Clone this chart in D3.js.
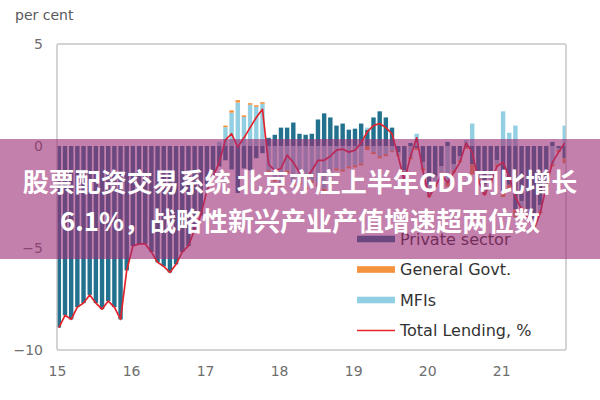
<!DOCTYPE html>
<html lang="en">
<head>
<meta charset="utf-8">
<title>Lending by sector</title>
<script src="https://d3js.org/d3.v7.min.js"></script>
<style>
  body { margin: 0; background: #fff; }
  svg text { font-family: "DejaVu Sans", sans-serif; }
</style>
</head>
<body>
<svg id="chart" width="600" height="400"></svg>
<script>
// monthly values, Jan 2015 .. Nov 2021
var yearLabels = ["15", "16", "17", "18", "19", "20", "21"];
var yTicks = [5, 0, -5, -10];

var privateSector = [
  -8.9, -8.3, -8.5, -7.9, -7.7, -7.3, -7.7, -8.0, -7.6, -7.9, -8.5, -6.1,
  -4.9, -4.8, -4.8, -5.2, -5.7, -5.9, -6.2, -5.8, -5.2, -4.9, -4.1, -3.4,
  -1.9, -1.3, -1.0, -0.7, -1.15, -2.3, -1.1, -1.2, -0.6, -0.35, 0.4, 0.55,
  0.9, 0.9, 1.15, 0.6, 0.55, 0.6, 1.3, 1.6, 1.4, 1.0, 1.1, 0.8,
  0.85, 1.1, 0.8, 1.4, 1.7, 1.4, 0.9, -0.3, -1.2, 0.15, -0.1, -0.8,
  -1.9, -1.5, -1.0, 0.2, -0.9, -0.5, -0.05, -0.9, -1.3, -1.9, -1.4, -0.7,
  -2.2, -1.9, -3.1, -2.7, -3.1, -3.6, -2.9, -1.7, 0.2, -0.1, -0.6
];
var generalGovt = [
  0, 0, 0, 0, 0, 0, 0, 0, 0, 0, 0, 0,
  0, 0, 0, 0, 0, 0, 0, 0, 0, 0, 0, 0,
  0, 0, 0, 0.08, 0.12, 0.12, 0.08, 0.08, 0.08, 0.08, -0.1, -0.15,
  -0.2, -0.15, -0.15, -0.1, -0.15, -0.1, -0.2, -0.2, -0.2, -0.1, -0.1, -0.1,
  -0.1, -0.1, -0.2, -0.1, -0.1, -0.1, -0.05, -0.05, -0.1, -0.1, -0.1, -0.1,
  -0.1, -0.1, -0.1, -0.2, -0.1, -0.1, -0.1, -0.5, -0.1, -0.1, -0.1, -0.1,
  -0.3, -0.25, -0.4, -0.1, -0.1, -0.1, -0.1, -0.1, -0.1, -0.1, -0.25
];
var mfis = [
  0, 0, 0, 0, 0, 0, 0, 0, 0, 0, 0, 0,
  0, 0, 0, 0, 0, 0, 0, 0, 0, 0, 0, 0,
  -0.3, -0.2, 0.2, 0.92, 1.63, 2.13, 1.42, 2.02, 1.92, 2.07, -1.2, -1.6,
  -1.8, -1.2, -1.8, -1.8, -2.0, -1.7, -1.8, -2.1, -1.7, -1.1, -1.15, -1.0,
  -0.95, -0.85, 0.1, -0.3, -0.5, -0.4, -0.25, -0.15, -0.4, -0.55, 0.6, -0.3,
  -0.5, -0.4, -0.3, -1.8, -0.3, -0.2, 0.3, 1.1, -0.3, -0.4, -0.3, -0.2,
  1.7, 0.65, 1.0, -0.3, -0.3, -0.4, -0.3, -0.2, -0.9, -0.1, 1.0
];
var totalLending = [
  -8.9, -8.3, -8.5, -7.9, -7.7, -7.3, -7.7, -8.0, -7.6, -7.9, -8.5, -6.1,
  -4.9, -4.8, -4.8, -5.2, -5.7, -5.9, -6.2, -5.8, -5.2, -4.9, -4.1, -3.4,
  -2.2, -1.5, -0.8, 0.3, 0.6, -0.05, 0.4, 0.9, 1.4, 1.8, -0.9, -1.2,
  -1.1, -0.45, -0.8, -1.3, -1.6, -1.2, -0.7, -0.7, -0.5, -0.2, -0.15, -0.3,
  -0.2, 0.15, 0.7, 1.0, 1.1, 0.9, 0.6, -0.5, -1.7, -0.5, 0.4, -1.2,
  -2.5, -2.0, -1.4, -1.8, -1.3, -0.8, 0.15, -0.3, -1.7, -2.4, -1.8, -1.0,
  -0.8, -1.5, -2.5, -3.1, -3.5, -4.1, -3.3, -2.0, -0.8, -0.3, 0.15
];

var seriesKeys = ["private", "mfi", "govt"];
var seriesColors = { "private": "#21718f", "govt": "#f5923e", "mfi": "#92cfe2" };
var legendItems = [
  { label: "Private sector", key: "private" },
  { label: "General Govt.", key: "govt" },
  { label: "MFIs", key: "mfi" },
  { label: "Total Lending, %", key: "total" }
];
var bannerLines = ["股票配资交易系统 北京亦庄上半年GDP同比增长", "6.1%，战略性新兴产业产值增速超两位数"];

var table = totalLending.map(function (t, i) {
  return { month: 2015 + (i + 0.3) / 12, "private": privateSector[i], govt: generalGovt[i], mfi: mfis[i], total: t };
});

var svg = d3.select("svg#chart");
var plotL = 57, plotR = 566, plotT = 44, plotB = 350;

var x = d3.scaleLinear().domain([2015, 2021.875]).range([plotL, plotR]);
var y = d3.scaleLinear().domain([-10, 5]).range([plotB, plotT]);
var barW = 4.4;

svg.append("clipPath").attr("id", "plotClip")
  .append("rect").attr("x", plotL).attr("y", plotT).attr("width", plotR - plotL).attr("height", plotB - plotT);

var stacked = d3.stack().keys(seriesKeys).offset(d3.stackOffsetDiverging)(table);

var plot = svg.append("g").attr("clip-path", "url(#plotClip)");
plot.selectAll("g.series").data(stacked).enter().append("g")
  .attr("class", "series")
  .attr("fill", d => seriesColors[d.key])
  .selectAll("rect").data(d => d).enter().append("rect")
  .attr("x", d => x(d.data.month) - barW / 2)
  .attr("width", barW)
  .attr("y", d => y(Math.max(d[0], d[1])))
  .attr("height", d => Math.abs(y(d[0]) - y(d[1])));

var line = d3.line().x(d => x(d.month)).y(d => y(d.total));
plot.append("path").datum(table)
  .attr("fill", "none").attr("stroke", "#e3232c").attr("stroke-width", 1.7)
  .attr("stroke-linejoin", "round")
  .attr("d", line);

// frame
svg.append("rect").attr("x", plotL).attr("y", plotT).attr("width", plotR - plotL).attr("height", plotB - plotT)
  .attr("fill", "none").attr("stroke", "#c6c6c6").attr("stroke-width", 1.5).attr("rx", 1.5);

var xAxis = d3.axisBottom(x).tickValues(d3.range(2015, 2022)).tickSize(0).tickPadding(16)
  .tickFormat((d, i) => yearLabels[i]);
var gx = svg.append("g").attr("transform", "translate(0," + plotB + ")").call(xAxis);
gx.select(".domain").remove();
gx.selectAll("text").style("font-family", "DejaVu Sans").style("font-size", "14px").attr("fill", "#6e6e6e");

var yAxis = d3.axisLeft(y).tickValues(yTicks).tickSize(0).tickPadding(14);
var gy = svg.append("g").attr("transform", "translate(" + plotL + ",0)").call(yAxis);
gy.select(".domain").remove();
gy.selectAll("text").style("font-family", "DejaVu Sans").style("font-size", "14px").attr("fill", "#6e6e6e");

svg.append("text").attr("x", 15).attr("y", 20).style("font-size", "14px").attr("fill", "#5a5a5a").text("per cent");

// legend
var legendY = [239, 269.5, 300, 330.5];
var lg = svg.append("g");
legendItems.forEach(function (item, i) {
  if (item.key === "total") {
    lg.append("line").attr("x1", 357).attr("x2", 395).attr("y1", legendY[i]).attr("y2", legendY[i])
      .attr("stroke", "#e3232c").attr("stroke-width", 1.6);
  } else {
    lg.append("rect").attr("x", 357).attr("y", legendY[i] - 3.3).attr("width", 38).attr("height", 6.6)
      .attr("fill", seriesColors[item.key]);
  }
  lg.append("text").attr("x", 400).attr("y", legendY[i]).attr("dy", "0.36em")
    .style("font-size", "16px").attr("fill", "#333").text(item.label);
});

// banner overlay
svg.append("rect").attr("x", 0).attr("y", 139).attr("width", 600).attr("height", 120)
  .attr("fill", "rgb(157,43,117)").attr("fill-opacity", 0.6);
svg.selectAll("text.banner").data(bannerLines).enter().append("text")
  .attr("class", "banner")
  .attr("x", 300).attr("y", (d, i) => i === 0 ? 192 : 231)
  .attr("text-anchor", "middle")
  .style("font-family", "'Noto Sans CJK SC', sans-serif")
  .style("font-size", "26px")
  .style("font-weight", "bold")
  .attr("fill", "#fff")
  .text(d => d);
</script>
</body>
</html>
